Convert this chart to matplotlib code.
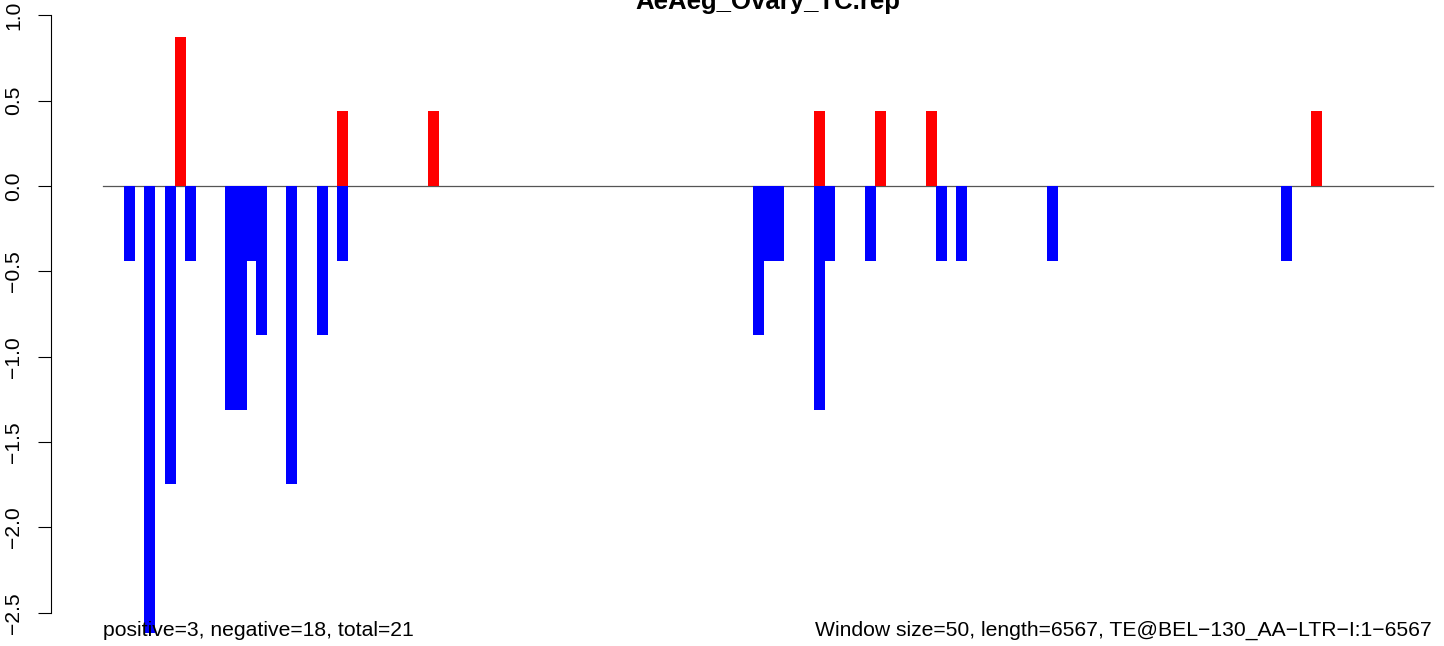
import numpy as np
import matplotlib.pyplot as plt

plt.rcParams['font.family'] = ['Liberation Sans', 'DejaVu Sans']

# Window coverage scores (window index, score)
length = 6567
n_windows = 131
title = 'AeAeg_Ovary_TC.rep'
left_note = 'positive=3, negative=18, total=21'
right_note = 'Window size=50, length=6567, TE@BEL\u2212130_AA\u2212LTR\u2212I:1\u22126567'

pos_idx = [7, 23, 32, 70, 76, 81, 119]
pos_val = [0.873, 0.437, 0.437, 0.437, 0.437, 0.437, 0.437]

neg_idx = [2, 4, 6, 8, 12, 13, 14, 15, 18, 21, 23,
           64, 65, 66, 70, 71, 75, 82, 84, 93, 116]
neg_val = [-0.437, -2.62, -1.747, -0.437, -1.31, -1.31, -0.437, -0.873, -1.747, -0.873, -0.437,
           -0.873, -0.437, -0.437, -1.31, -0.437, -0.437, -0.437, -0.437, -0.437, -0.437]

yticks = [-2.5, -2.0, -1.5, -1.0, -0.5, 0.0, 0.5, 1.0]

W, H = 1444, 646
fig = plt.figure(figsize=(W / 100, H / 100), dpi=100)
ax = fig.add_axes([51 / W, 0, (W - 51) / W, 1])

pxbp = (1432.7 - 103.3) / length
ax.set_xlim(-(103.3 - 51) / pxbp, length + (W - 1432.7) / pxbp)
ax.set_ylim(-(H - 186) / 170.7, 186 / 170.7)

step = length / n_windows
ax.bar(np.array(neg_idx) * step + 2, neg_val, width=step * 1.08, align='edge',
       color='blue', linewidth=0, zorder=2)
ax.bar(np.array(pos_idx) * step + 2, pos_val, width=step * 1.08, align='edge',
       color='red', linewidth=0, zorder=2)
ax.plot([0, length], [0, 0], color='#555555', lw=0.9, zorder=1.5)

for s in ['top', 'right', 'bottom']:
    ax.spines[s].set_visible(False)
ax.spines['left'].set_bounds(-2.5, 1.0)
ax.spines['left'].set_linewidth(0.8)
ax.set_xticks([])
ax.set_yticks(yticks)
ax.set_yticklabels([f'{t:.1f}'.replace('-', '\u2212') for t in yticks])
ax.tick_params(axis='y', length=9.4, width=0.8, pad=10.5, labelsize=15.2)
for lab in ax.get_yticklabels():
    lab.set_rotation(90)
    lab.set_va('center')
ax.patch.set_visible(False)

fig.text(0.5 * (103 + 1432) / W, 1 - 9 / H, title, ha='center', va='baseline',
         fontsize=18.5, fontweight='bold')
fig.text(103 / W, 10 / H, left_note, ha='left', va='baseline', fontsize=15.2, zorder=5)
fig.text(1432 / W, 10 / H, right_note, ha='right', va='baseline', fontsize=15.2, zorder=5)

fig.savefig('out.png', dpi=100)
